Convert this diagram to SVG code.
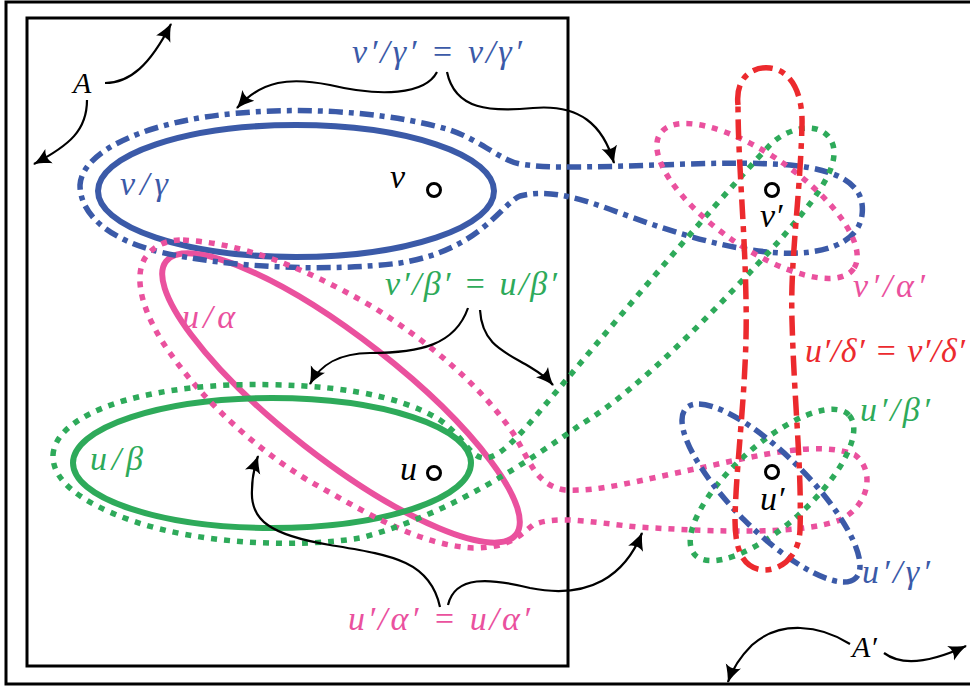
<svg xmlns="http://www.w3.org/2000/svg" width="970" height="691" viewBox="0 0 970 691">
<defs>
<marker id="ah" markerUnits="userSpaceOnUse" viewBox="-17 -9 19 18" refX="0" refY="0" markerWidth="19" markerHeight="18" orient="auto">
<path d="M1,0 C-5,-1.5 -11,-4.5 -17,-8 Q-12,0 -17,8 C-11,4.5 -5,1.5 1,0 Z" fill="#000"/>
</marker>
<style>
.frame{fill:none;stroke:#000;stroke-width:3}
.solid{fill:none;stroke-width:6}
.dot{fill:none;stroke-width:5.5;stroke-dasharray:6 7}
.dd{fill:none;stroke-width:5.5;stroke-dasharray:14 6 5 6}
.rdd{fill:none;stroke-width:5.5;stroke-dasharray:20 7 6 7}
.arr{fill:none;stroke:#000;stroke-width:2.2;marker-end:url(#ah)}
.pt{fill:#fff;stroke:#000;stroke-width:3}
.b{stroke:#3b5aa8}
.p{stroke:#ea519e}
.g{stroke:#2eaa5a}
.r{stroke:#ec2a2e}
.tb{fill:#3b5aa8}.tp{fill:#ea519e}.tg{fill:#2eaa5a}.tr{fill:#ec2a2e}.tk{fill:#000}
</style>
</defs>
<g id="frames">
<path class="frame" d="M975,2 H6 V684 H975"/>
<rect class="frame" x="27" y="18" width="541" height="648"/>
</g>
<g id="node-vgamma"><ellipse class="solid b" cx="296" cy="191" rx="198" ry="66"/></g>
<g id="node-ualpha"><ellipse class="solid p" cx="341" cy="398" rx="222" ry="60" transform="rotate(38 341 398)"/></g>
<g id="node-ubeta"><ellipse class="solid g" cx="272" cy="463" rx="199" ry="65"/></g>
<g id="node-vgamma-prime"><path class="dd b" d="M567,167 C650,167 720,160 790,165 C840,170 866,185 862,215 C858,245 820,255 780,253 C730,250 680,235 620,213 C585,200 550,188 520,196 C500,205 480,250 400,263 C330,272 230,268 160,252 C110,240 80,215 80,185 C82,150 150,120 240,113 C320,106 400,115 450,130 C480,140 500,160 520,164 C540,167 555,167 567,167 Z"/></g>
<g id="node-ualpha-prime"><path class="dot p" d="M183,240 C240,243 300,265 373,307 C430,343 480,385 513,433 C530,460 535,485 565,490 C600,492 640,480 700,468 C760,455 820,440 855,455 C875,470 870,505 840,520 C800,535 720,532 637,527 C590,522 555,515 533,525 C520,535 510,548 473,548 C420,545 370,515 320,487 C270,460 210,410 170,353 C145,318 132,280 145,258 C155,244 168,240 183,240 Z"/></g>
<g id="node-vbeta-prime"><path class="dot g" d="M53,455 C55,420 120,390 230,385 C330,382 400,395 440,420 C465,438 470,458 485,458 C500,458 520,435 545,405 C600,340 700,220 770,145 C790,125 825,120 833,145 C840,170 810,205 780,240 C720,305 640,390 580,425 C530,460 450,515 360,538 C300,548 200,545 130,520 C80,502 52,480 53,455 Z"/></g>
<g id="node-valpha-prime"><ellipse class="dot p" cx="757" cy="201" rx="118" ry="46" transform="rotate(35 757 201)"/></g>
<g id="node-ubeta-prime"><ellipse class="dot g" cx="772" cy="485" rx="104" ry="40" transform="rotate(-42 772 485)"/></g>
<g id="node-ugamma-prime"><ellipse class="dd b" cx="771" cy="493" rx="120" ry="38" transform="rotate(45 771 493)"/></g>
<g id="node-delta-prime"><path class="rdd r" d="M738,105 C735,78 752,66 770,68 C790,70 803,92 802,125 C800,200 790,260 792,320 C794,400 802,470 800,530 C799,556 782,570 764,570 C744,569 735,552 735,520 C736,460 748,380 746,300 C745,230 738,160 738,105 Z"/></g>
<g id="points">
<circle class="pt" cx="434" cy="190" r="6.5"/>
<circle class="pt" cx="434" cy="473" r="6.5"/>
<circle class="pt" cx="772" cy="190" r="6.5"/>
<circle class="pt" cx="772" cy="472" r="6.5"/>
</g>
<g id="connectors">
<path class="arr" d="M105,83 C130,83 150,65 171,24"/>
<path class="arr" d="M87,100 C87,130 70,145 34,164"/>
<path class="arr" d="M437,72 C425,95 380,97 330,85 C290,77 262,80 237,108"/>
<path class="arr" d="M447,72 C455,110 490,112 533,108 C580,104 603,125 614,163"/>
<path class="arr" d="M468,308 C455,345 420,353 370,353 C340,353 320,365 310,384"/>
<path class="arr" d="M480,310 C482,345 505,352 530,367 C540,373 547,378 553,385"/>
<path class="arr" d="M440,607 C430,560 390,555 330,545 C270,535 250,520 252,490 C252,475 255,465 258,456"/>
<path class="arr" d="M448,605 C455,575 490,578 530,588 C590,600 625,575 642,533"/>
<path class="arr" d="M850,644 C820,625 780,620 752,645 C740,657 732,670 728,682"/>
<path class="arr" d="M884,653 C900,665 925,665 966,646"/>
</g>
<g id="labels" font-family="Liberation Serif, DejaVu Serif, serif" font-style="italic" font-size="34">
<text class="tk" x="73" y="93" font-size="30">A</text>
<text class="tb" x="352" y="63" textLength="170" lengthAdjust="spacing">v′/γ′ = v/γ′</text>
<text class="tb" x="120" y="195" textLength="48" lengthAdjust="spacing">v/γ</text>
<text class="tp" x="182" y="328" textLength="53" lengthAdjust="spacing">u/α</text>
<text class="tg" x="90" y="470" textLength="53" lengthAdjust="spacing">u/β</text>
<text class="tg" x="385" y="295" textLength="172" lengthAdjust="spacing">v′/β′ = u/β′</text>
<text class="tp" x="853" y="297" textLength="72" lengthAdjust="spacing">v′/α′</text>
<text class="tr" x="805" y="362" textLength="160" lengthAdjust="spacing">u′/δ′ = v′/δ′</text>
<text class="tg" x="860" y="421" textLength="70" lengthAdjust="spacing">u′/β′</text>
<text class="tb" x="862" y="583" textLength="68" lengthAdjust="spacing">u′/γ′</text>
<text class="tk" x="852" y="657" font-size="30">A′</text>
<text class="tp" x="348" y="630" textLength="182" lengthAdjust="spacing">u′/α′ = u/α′</text>
<text class="tk" x="390" y="188">v</text>
<text class="tk" x="400" y="480">u</text>
<text class="tk" x="760" y="227">v′</text>
<text class="tk" x="760" y="510">u′</text>
</g>
</svg>
